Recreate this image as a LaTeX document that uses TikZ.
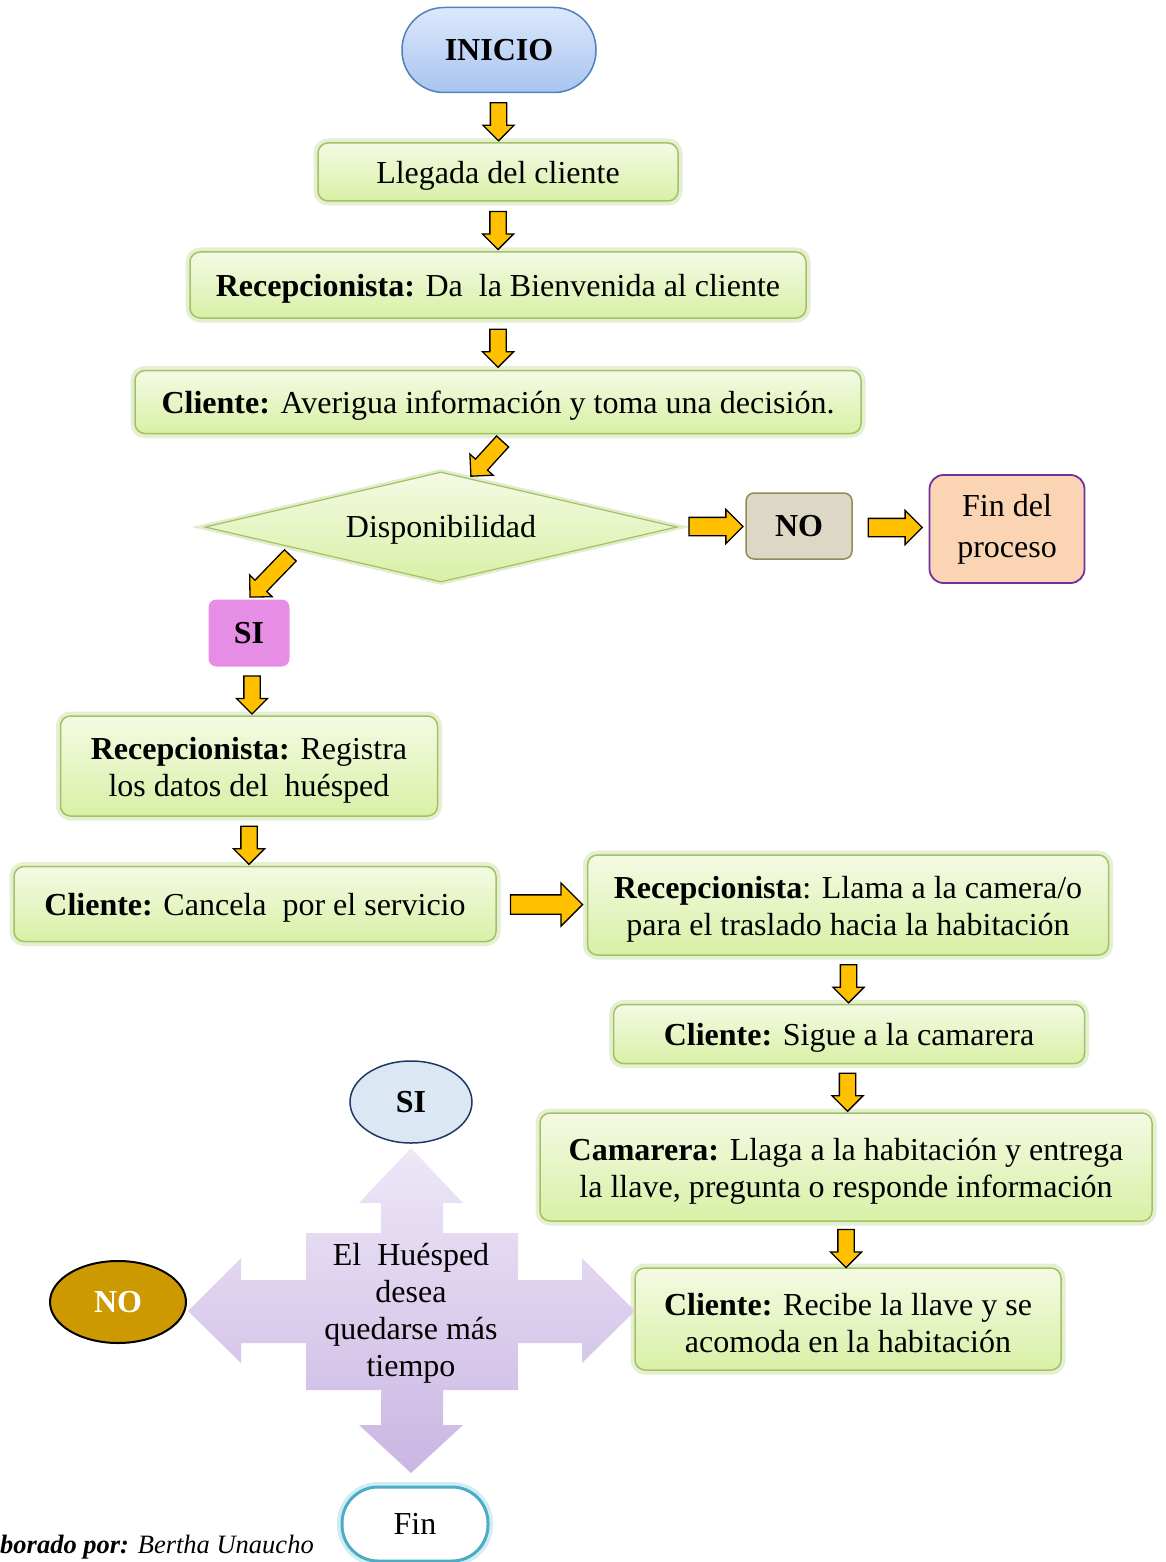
\documentclass[tikz,border=0pt]{standalone}
\usepackage{fontspec}
\setmainfont{Liberation Serif}
\usetikzlibrary{shapes.arrows,shapes.geometric,calc}
\definecolor{gborder}{HTML}{A2C266}
\definecolor{gtop}{HTML}{F4FAE4}
\definecolor{gbot}{HTML}{D9F0A6}
\definecolor{gglow}{HTML}{B5D07A}
\definecolor{arrowyellow}{HTML}{FFC000}
\definecolor{blueborder}{HTML}{4F81BD}
\definecolor{bluetop}{HTML}{DCE8FB}
\definecolor{bluebot}{HTML}{A9C4F0}
\definecolor{nofill}{HTML}{DDD7C6}
\definecolor{noborder}{HTML}{948A54}
\definecolor{peach}{HTML}{FBD4B4}
\definecolor{purpleborder}{HTML}{7030A0}
\definecolor{violet}{HTML}{E68EE6}
\definecolor{siblue}{HTML}{DCE7F4}
\definecolor{navy}{HTML}{1F3864}
\definecolor{gold}{HTML}{CC9900}
\definecolor{lavtop}{HTML}{EEE7F7}
\definecolor{lavbot}{HTML}{CAB6E3}
\definecolor{teal}{HTML}{4BACC6}
\definecolor{tealglow}{HTML}{BDE5F0}
\tikzset{
  txt/.style={font=\fontsize{32}{37}\selectfont},
  greenbox/.style={draw=gborder, line width=1.5pt, rounded corners=10pt,
    top color=gtop, bottom color=gbot, inner sep=0pt,
    preaction={draw=gglow, line width=9pt, opacity=0.35}},
  boxtext/.style={txt, align=center, inner sep=0pt},
  blockarrow/.style={single arrow, draw=black, line width=1.3pt, fill=arrowyellow,
    inner xsep=0pt, inner ysep=7.5pt, single arrow head extend=7.5pt,
    minimum height=38pt},
  widearrow/.style={blockarrow, inner ysep=8.5pt, single arrow head extend=8pt, minimum height=54pt},
}
% #1 name, #2 position, #3 width, #4 height, #5 text
\newcommand\greenstep[5]{%
  \node[greenbox, minimum width=#3, minimum height=#4] (#1) at (#2) {};
  \node[boxtext] (#1t) at ($(#1.center)+(0,-4)$) {#5};
}
\begin{document}
\begin{tikzpicture}[x=1pt,y=1pt]
\useasboundingbox (0,0) rectangle (1165,-1562);

% top chain
\node[txt, font=\fontsize{32}{37}\selectfont\bfseries, draw=blueborder, line width=1.5pt,
  rounded corners=42pt, top color=bluetop, bottom color=bluebot,
  minimum width=194pt, minimum height=85pt, inner sep=0pt] (inicio) at (499,-50) {INICIO};
\greenstep{b1}{498,-172}{360pt}{58pt}{Llegada del cliente}
\greenstep{b2}{498,-285}{616pt}{66pt}{\textbf{Recepcionista:} Da\ \ la Bienvenida al cliente}
\greenstep{b3}{498,-402}{726pt}{63pt}{\textbf{Cliente:} Averigua información y toma una decisión.}
\node[diamond, aspect=4.29, draw=gborder, line width=1.2pt, top color=gtop, bottom color=gbot,
  minimum width=472pt, minimum height=110pt, inner sep=0pt,
  preaction={draw=gglow, line width=6pt, opacity=0.4}] (dia) at (441,-527) {};
\node[boxtext] (diat) at ($(dia.center)+(0,-3)$) {Disponibilidad};
\node[txt, font=\fontsize{32}{37}\selectfont\bfseries, draw=noborder, line width=1.5pt, fill=nofill,
  rounded corners=8pt, minimum width=106pt, minimum height=66pt, inner sep=0pt] (no1) at (799,-526) {NO};
\node[txt, draw=purpleborder, line width=1.8pt, fill=peach, rounded corners=14pt, align=center,
  minimum width=155pt, minimum height=108pt, inner sep=0pt, font=\fontsize{32}{41}\selectfont] (fin1) at (1007,-529) {Fin del\\proceso};
\node[txt, font=\fontsize{32}{37}\selectfont\bfseries, fill=violet, rounded corners=8pt,
  minimum width=81pt, minimum height=67pt, inner sep=0pt] (si1) at (249,-633) {SI};
\greenstep{b4}{249,-766}{377pt}{100pt}{\textbf{Recepcionista:} Registra\\los datos del\ \ huésped}
\greenstep{b5}{255,-904}{482pt}{75pt}{\textbf{Cliente:} Cancela\ \ por el servicio}
\greenstep{b6}{848,-905}{521pt}{100pt}{\textbf{Recepcionista}: Llama a la camera/o\\para el traslado hacia la habitación}
\greenstep{b7}{849,-1034}{471pt}{59pt}{\textbf{Cliente:} Sigue a la camarera}
\greenstep{b8}{846,-1167}{612pt}{108pt}{\textbf{Camarera:} Llaga a la habitación y entrega\\la llave, pregunta o responde información}
\greenstep{b9}{848,-1319}{426pt}{102pt}{\textbf{Cliente:} Recibe la llave y se\\acomoda en la habitación}

% block arrows
\node[blockarrow, rotate=-90] (a1) at ($(inicio.south)!0.5!(b1.north)$) {};
\node[blockarrow, rotate=-90] (a2) at ($(b1.south)!0.5!(b2.north)$) {};
\node[blockarrow, rotate=-90] (a3) at ($(b2.south)!0.5!(b3.north)$) {};
\node[blockarrow, rotate=227.6, minimum height=47pt] (a4) at ($(b3.south)!0.5!(dia.north)+(20,-3)$) {};
\node[widearrow] (a5) at ($(dia.east)!0.5!(no1.west)$) {};
\node[widearrow] (a6) at ($(no1.east)!0.5!(fin1.west)$) {};
\node[blockarrow, rotate=226, minimum height=58pt] (a7) at ($(si1.north)+(24,26)$) {};
\node[blockarrow, rotate=-90] (a8) at ($(si1.south)!0.5!(si1.south|-b4.north)+(3,0)$) {};
\node[blockarrow, rotate=-90] (a9) at ($(b4.south)!0.5!(b4.south|-b5.north)$) {};
\node[blockarrow, inner ysep=9pt, single arrow head extend=12pt, minimum height=72pt] (a10) at ($(b5.east)!0.5!(b6.west)$) {};
\node[blockarrow, rotate=-90] (a11) at ($(b6.south)!0.5!(b7.north)$) {};
\node[blockarrow, rotate=-90] (a12) at ($(b7.south)!0.5!(b8.north)$) {};
\node[blockarrow, rotate=-90] (a13) at ($(b8.south)!0.5!(b8.south|-b9.north)$) {};

% quad arrow
\path[top color=lavtop, bottom color=lavbot]
 (411,-1148) -- (463,-1203) -- (443,-1203) -- (443,-1233) -- (518,-1233) -- (518,-1280)
 -- (582,-1280) -- (582,-1258) -- (635,-1311) -- (582,-1363) -- (582,-1343) -- (518,-1343)
 -- (518,-1390) -- (443,-1390) -- (443,-1425) -- (463,-1425) -- (411,-1473) -- (359,-1425)
 -- (381,-1425) -- (381,-1390) -- (306,-1390) -- (306,-1343) -- (241,-1343) -- (241,-1363)
 -- (188,-1311) -- (241,-1258) -- (241,-1280) -- (306,-1280) -- (306,-1233) -- (381,-1233)
 -- (381,-1203) -- (359,-1203) -- cycle;
\node[txt, align=center] (q) at (411,-1313) {El\ \ Huésped\\desea\\quedarse más\\tiempo};

\node[txt, font=\fontsize{32}{37}\selectfont\bfseries, ellipse, draw=navy, line width=1.5pt, fill=siblue,
  minimum width=122pt, minimum height=82pt, inner sep=0pt] (si2) at (411,-1102) {SI};
\node[txt, font=\fontsize{32}{37}\selectfont\bfseries, text=white, ellipse, draw=black, line width=2pt, fill=gold,
  minimum width=136pt, minimum height=82pt, inner sep=0pt] (no2) at (118,-1302) {NO};
\node[txt, draw=teal, line width=3pt, fill=white, rounded corners=36pt,
  minimum width=146pt, minimum height=74pt, inner sep=0pt,
  preaction={draw=tealglow, line width=10pt, opacity=0.7}] (fin2) at (415,-1524) {Fin};

\node[anchor=base west, inner sep=0pt, font=\fontsize{26.5}{30}\selectfont\itshape] (cap) at (0,-1553)
  {\textbf{borado por:} Bertha Unaucho};
\end{tikzpicture}
\end{document}
